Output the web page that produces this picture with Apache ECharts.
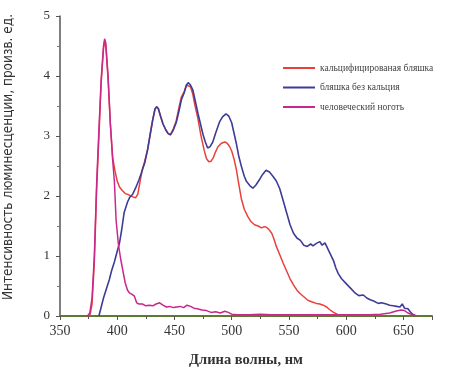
<!DOCTYPE html>
<html>
<head>
<meta charset="utf-8">
<script src="https://cdn.jsdelivr.net/npm/echarts@6/dist/echarts.min.js"></script>
<style>
  html, body { margin: 0; padding: 0; background: #fff; }
  #chart { width: 464px; height: 374px; }
</style>
</head>
<body>
<div id="chart"></div>
<script>
// [wavelength nm, intensity]
let calcifiedPlaque = [
  [376, 0], [378, 0.2], [380, 0.9], [382, 2.1], [384, 3.0], [386, 3.9], [388, 4.45], [389, 4.58],
  [390, 4.5], [392, 3.95], [394, 3.2], [396, 2.65], [398, 2.42], [400, 2.25], [402, 2.15], [404, 2.1], [407, 2.04],
  [410, 2.02], [413, 1.99], [416, 1.97], [418, 2.03], [420, 2.25], [422, 2.45], [424, 2.58], [426.5, 2.77],
  [429, 3.05], [431, 3.27], [433, 3.45], [434.5, 3.49], [436, 3.45], [438, 3.32], [440, 3.2], [442.5, 3.1],
  [444.5, 3.04], [446.5, 3.02], [449, 3.12], [451.5, 3.25], [454, 3.48], [456, 3.65], [458.5, 3.74],
  [460.5, 3.85], [462, 3.88], [464, 3.82], [466, 3.7], [468, 3.5], [470.5, 3.29], [473, 3.02], [476, 2.76],
  [478, 2.62], [480, 2.57], [482, 2.58], [484, 2.64], [486, 2.74], [488, 2.82], [491, 2.88], [494, 2.9],
  [496, 2.88], [498, 2.83], [500, 2.75], [502, 2.62], [504, 2.45], [506, 2.22], [508.5, 1.95], [511, 1.78],
  [514, 1.66], [517, 1.57], [520, 1.52], [523, 1.5], [526, 1.47], [529, 1.49], [531, 1.47], [533, 1.43],
  [535, 1.38], [537, 1.28], [539, 1.16], [542, 1.02], [545, 0.88], [548, 0.75], [551, 0.62], [554, 0.52],
  [557, 0.43], [560, 0.37], [563, 0.32], [566, 0.27], [568, 0.25], [571, 0.23], [574, 0.21], [577, 0.2],
  [580, 0.18], [583, 0.15], [586, 0.1], [589, 0.06], [592, 0.03], [595, 0]
]
let plaqueNoCalcium = [
  [384, 0], [386, 0.15], [388, 0.3], [390, 0.42], [393, 0.6], [395, 0.75], [397.5, 0.9], [400, 1.08],
  [402, 1.22], [404, 1.45], [406, 1.72], [409, 1.9], [411, 1.98], [413.5, 2.03], [416, 2.13], [419, 2.27],
  [421, 2.38], [424, 2.55], [426.5, 2.77], [429, 3.05], [431, 3.27], [433, 3.45], [434.5, 3.49], [436, 3.45],
  [438, 3.32], [440, 3.2], [442.5, 3.1], [444.5, 3.04], [446.5, 3.02], [449, 3.1], [451.5, 3.22], [454, 3.42],
  [456, 3.6], [458.5, 3.72], [460.5, 3.85], [462, 3.89], [464, 3.85], [466, 3.77], [468, 3.6], [470.5, 3.38],
  [473, 3.18], [475, 3.02], [477, 2.9], [479, 2.8], [481, 2.82], [483.5, 2.9], [486, 3.05], [489.5, 3.24],
  [492, 3.32], [495, 3.37], [497.5, 3.33], [500, 3.22], [502, 3.05], [504, 2.88], [506, 2.68], [508.5, 2.49],
  [511, 2.33], [513, 2.24], [516, 2.17], [518.5, 2.13], [521, 2.18], [524.5, 2.28], [527, 2.36], [530, 2.43],
  [533, 2.4], [536, 2.33], [539, 2.25], [542, 2.12], [545, 1.92], [548, 1.72], [551, 1.52], [554, 1.38],
  [557, 1.3], [560, 1.26], [563, 1.18], [566, 1.16], [569, 1.2], [571, 1.17], [574, 1.21], [577, 1.24],
  [579, 1.18], [581.5, 1.22], [584, 1.12], [586, 1.04], [589, 0.92], [591, 0.8], [593, 0.71], [596, 0.62],
  [600, 0.54], [604, 0.46], [608, 0.38], [611, 0.34], [615, 0.35], [618, 0.3], [621, 0.27], [624, 0.25],
  [628, 0.21], [631, 0.22], [635, 0.2], [638, 0.18], [641, 0.17], [644, 0.16], [647, 0.15], [649, 0.2],
  [651, 0.13], [654, 0.12], [656, 0.07], [658, 0.03], [661, 0]
]
let humanNail = [
  [372, 0], [374, 0], [376, 0.05], [378, 0.3], [380, 1.0], [382, 2.2], [384, 3.1], [386, 3.95], [388, 4.5],
  [389, 4.62], [390, 4.55], [392, 4.0], [394, 3.2], [396, 2.6], [397.5, 2.25], [399, 1.6], [401, 1.2],
  [403, 0.95], [405, 0.75], [407, 0.55], [409, 0.43], [411, 0.38], [413, 0.36], [415, 0.33], [417, 0.22],
  [419, 0.2], [422, 0.2], [425, 0.17], [428, 0.18], [431, 0.17], [434, 0.2], [437, 0.22], [440, 0.18],
  [443, 0.15], [446, 0.16], [449, 0.14], [452, 0.15], [455, 0.16], [458, 0.14], [461, 0.18], [464, 0.16],
  [467, 0.13], [470, 0.12], [474, 0.1], [478, 0.09], [482, 0.06], [486, 0.07], [490, 0.05], [494, 0.08],
  [497, 0.06], [500, 0.03], [505, 0.02], [515, 0.02], [525, 0.03], [535, 0.02], [545, 0.02], [560, 0.02],
  [575, 0.02], [590, 0.02], [605, 0.02], [620, 0.02], [630, 0.03], [638, 0.05], [643, 0.08], [648, 0.1],
  [651, 0.09], [654, 0.05], [658, 0.02], [662, 0]
]
let seriesNames = ['кальцифицированая бляшка', 'бляшка без кальция', 'человеческий ноготь']
let seriesColors = ['#e8413c', '#3d3d98', '#c8288c']

let font = 'Liberation Serif'

let myChart = echarts.init(document.getElementById('chart'))
myChart.setOption({
  animation: false,
  grid: {
    left: 60,
    right: 32,
    top: 16,
    bottom: 58,
    outerBoundsMode: 'none'
  },
  legend: {
    orient: 'vertical',
    left: 278,
    top: 58,
    icon: 'rect',
    itemWidth: 32,
    itemHeight: 2,
    itemGap: 9.5,
    textStyle: {
      fontFamily: font,
      fontSize: 9.5,
      color: '#444'
    },
    data: seriesNames
  },
  xAxis: {
    type: 'value',
    min: 350,
    max: 675,
    interval: 50,
    name: 'Длина волны, нм',
    nameLocation: 'middle',
    nameGap: 37,
    nameTextStyle: {
      fontFamily: font,
      fontSize: 14.5,
      fontWeight: 'bold',
      color: '#333'
    },
    axisLine: {
      onZero: false,
      lineStyle: {
        color: '#5c7c34',
        width: 2
      }
    },
    axisTick: {
      length: 4,
      lineStyle: {
        color: '#555'
      }
    },
    minorTick: {
      show: true,
      splitNumber: 2,
      length: 3,
      lineStyle: {
        color: '#555'
      }
    },
    axisLabel: {
      showMaxLabel: false,
      fontFamily: font,
      fontSize: 14,
      color: '#333',
      margin: 8
    },
    splitLine: {
      show: false
    }
  },
  yAxis: {
    type: 'value',
    min: 0,
    max: 5,
    interval: 1,
    name: 'Интенсивность люминесценции, произв. ед.',
    nameLocation: 'middle',
    nameGap: 45,
    nameTextStyle: {
      fontFamily: 'Liberation Sans Narrow, DejaVu Sans Condensed, sans-serif',
      fontSize: 13.5,
      color: '#333',
      padding: [0, 0, 0, 18]
    },
    axisLine: {
      show: true,
      lineStyle: {
        color: '#555',
        width: 1.5
      }
    },
    axisTick: {
      show: true,
      length: 4,
      lineStyle: {
        color: '#555'
      }
    },
    minorTick: {
      show: true,
      splitNumber: 2,
      length: 3,
      lineStyle: {
        color: '#777'
      }
    },
    axisLabel: {
      fontFamily: font,
      fontSize: 13,
      color: '#333',
      margin: 10
    },
    splitLine: {
      show: false
    }
  },
  series: [{
    type: 'line',
    name: seriesNames[0],
    data: calcifiedPlaque,
    symbol: 'none',
    z: 2,
    lineStyle: {
      color: seriesColors[0],
      width: 1.5
    },
    itemStyle: {
      color: seriesColors[0]
    }
  }, {
    type: 'line',
    name: seriesNames[1],
    data: plaqueNoCalcium,
    symbol: 'none',
    z: 3,
    lineStyle: {
      color: seriesColors[1],
      width: 1.6
    },
    itemStyle: {
      color: seriesColors[1]
    }
  }, {
    type: 'line',
    name: seriesNames[2],
    data: humanNail,
    symbol: 'none',
    z: 4,
    lineStyle: {
      color: seriesColors[2],
      width: 1.5
    },
    itemStyle: {
      color: seriesColors[2]
    }
  }]
})
</script>
</body>
</html>
